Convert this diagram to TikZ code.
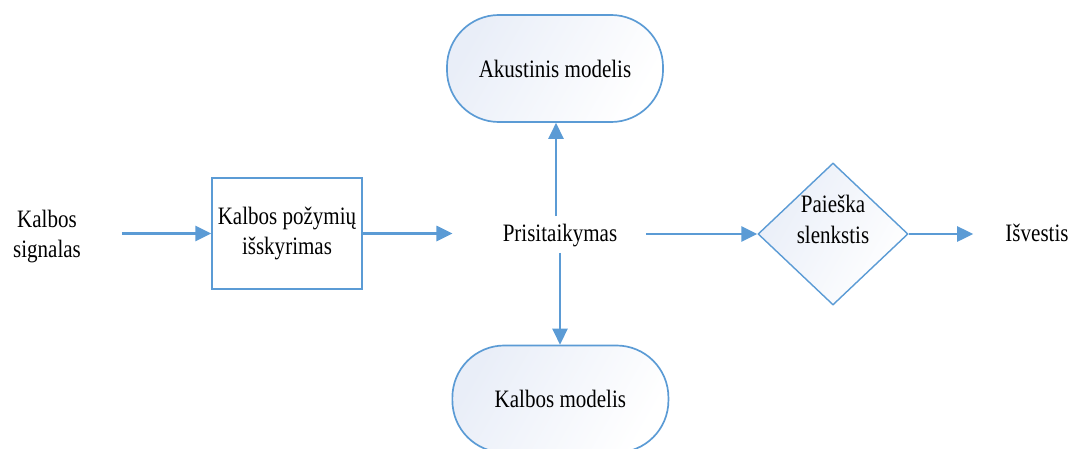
\documentclass[tikz,border=0pt]{standalone}
\usepackage{fontspec}
\setmainfont{Liberation Serif}[FakeStretch=0.84]
\usetikzlibrary{arrows.meta,shapes.geometric}
\definecolor{flowblue}{HTML}{5B9BD5}
\definecolor{shadeblue}{HTML}{E9EEF8}
\tikzset{
  txt/.style={font=\fontsize{17.8}{22}\selectfont, inner sep=0pt, align=center},
  flow/.style={draw=flowblue, line width=1.5pt, -{Triangle[length=0.4cm,width=0.38cm]}},
  proc/.style={txt, draw=flowblue, line width=1pt, fill=white, minimum width=3.75cm, minimum height=2.775cm},
  model/.style={txt, draw=flowblue, line width=1.2pt, rounded corners=1.3cm, top color=shadeblue, bottom color=white, shading angle=60, minimum width=5.4cm, minimum height=2.675cm},
  decision/.style={diamond, draw=flowblue, line width=1pt, top color=shadeblue, bottom color=white, shading angle=60, minimum width=3.75cm, minimum height=3.55cm, inner sep=0pt},
}
\begin{document}
\begin{tikzpicture}[x=0.025cm, y=-0.025cm]
\useasboundingbox (0,0) rectangle (1084,448);
% blocks
\node[txt] (signal) at (47,236.5) {Kalbos\\signalas};
\node[proc] (features) at (287,233.5) {Kalbos požymių\\išskyrimas};
\node[txt, anchor=base] (adapt) at (560,241.7) {Prisitaikymas};
\node[model] (acoustic) at (555,68.5) {Akustinis modelis};
\node[model] (lang) at (560.4,399) {Kalbos modelis};
\node[decision, label={[txt, yshift=0.375cm]center:Paieška\\slenkstis}] (search) at (833,234) {};
\node[txt, anchor=base] (output) at (1037,241.7) {Išvestis};
% connectors
\draw[flow] ([xshift=1.02cm]signal.east |- features.west) -- (features.west);
\draw[flow] (features.east) -- ([xshift=-1.25cm]adapt.west |- features.east);
\draw[flow] ([xshift=0.72cm]adapt.east |- search.west) -- (search.west);
\draw[flow] (search.east) -- ([xshift=-0.8cm]output.west |- search.east);
\draw[flow] ([xshift=-0.1cm,yshift=0.2cm]adapt.north) -- ([xshift=-0.1cm]adapt.north |- acoustic.south);
\draw[flow] ([yshift=-0.14cm]adapt.south) -- (adapt.south |- lang.north);
\end{tikzpicture}
\end{document}
